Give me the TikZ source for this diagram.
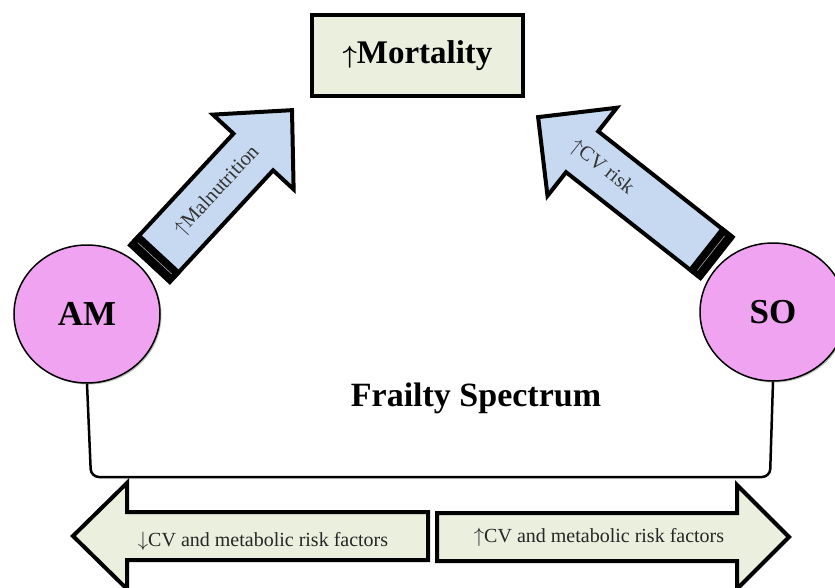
\documentclass[tikz,border=0pt]{standalone}
\usepackage{fontspec}
\setmainfont{Liberation Serif}
\usetikzlibrary{shapes.geometric, shadows}
\definecolor{amsopink}{RGB}{239,163,240}
\definecolor{riskblue}{RGB}{198,217,241}
\definecolor{paleolive}{RGB}{235,240,222}
\tikzset{soft shadow/.style={drop shadow={shadow xshift=1.5pt, shadow yshift=-1.5pt, opacity=0.25, fill=black}},
         mortbox/.style={draw, fill=paleolive, line width=4.5pt, soft shadow, minimum width=211pt, minimum height=81pt, font=\fontsize{33}{33}\selectfont\bfseries\boldmath},
         riskcircle/.style={ellipse, draw, fill=amsopink, line width=1.5pt, soft shadow, minimum width=146pt, minimum height=138pt, inner sep=0pt, font=\fontsize{35}{35}\selectfont\bfseries},
         bracket/.style={line width=2.5pt, rounded corners=8pt},
         flatarrow/.style={draw, fill=paleolive, line width=4pt},
         tiltarrow/.style={draw, fill=riskblue, line width=4pt, soft shadow},
         bottomtext/.style={text=black!85, font=\fontsize{20}{20}\selectfont},
         tilttext/.style={text=black!80, font=\fontsize{20.5}{20.5}\selectfont}
}

\begin{document}
\begin{tikzpicture}[x=1pt, y=-1pt, line join=miter]
        \useasboundingbox (0,0) rectangle (835,588);
        \node [mortbox] (mort) at (417.5,55.5) {$\uparrow$Mortality};
        \node [riskcircle] (AM) at (87,314) {AM};
        \node [riskcircle] (SO) at (773,312) {SO};
        \node [font=\fontsize{34}{34}\selectfont\bfseries] (frailty) at (476,398) {Frailty Spectrum};
        \coordinate (base) at (0,477);
        \draw [bracket] (AM.south) -- ([xshift=4pt]AM.south |- base) -- ([xshift=-3pt]SO.south |- base) -- (SO.south);
        \draw [flatarrow] (73,536) -- (127,483) -- (127,512) -- (428,512) -- (428,560) -- (127,560) -- (127,589) -- cycle;
        \node [bottomtext] (lowrisk) at (263,541) {$\downarrow$CV and metabolic risk factors};
        \draw [flatarrow] (437,513) -- (737,513) -- (737,485) -- (789,537) -- (737,589) -- (737,561) -- (437,561) -- cycle;
        \node [bottomtext] (highrisk) at (599,537) {$\uparrow$CV and metabolic risk factors};
        \begin{scope}[shift={(150,263.5)}, rotate=47.2]
          \draw [tiltarrow] (0,-27) -- (152,-27) -- (152,-55) -- (209,0) -- (152,55) -- (152,27) -- (0,27) -- cycle;
          \fill (-2,-29) rectangle (15,29);
          \draw [gray!70, line width=0.6pt] (7,-23) -- (7,23);
          \node [tilttext, rotate=47.2] (maln) at (99,0) {$\uparrow$Malnutrition};
        \end{scope}
        \begin{scope}[shift={(716.5,257.5)}, rotate=141.8]
          \draw [tiltarrow] (0,-26) -- (171,-26) -- (171,-56) -- (227,0) -- (171,56) -- (171,26) -- (0,26) -- cycle;
          \fill (-2,-28) rectangle (15,28);
          \draw [gray!70, line width=0.6pt] (7,-22) -- (7,22);
          \node [tilttext, rotate=-38.2] (cvrisk) at (146,0) {$\uparrow$CV risk};
        \end{scope}
      \end{tikzpicture}
\end{document}
